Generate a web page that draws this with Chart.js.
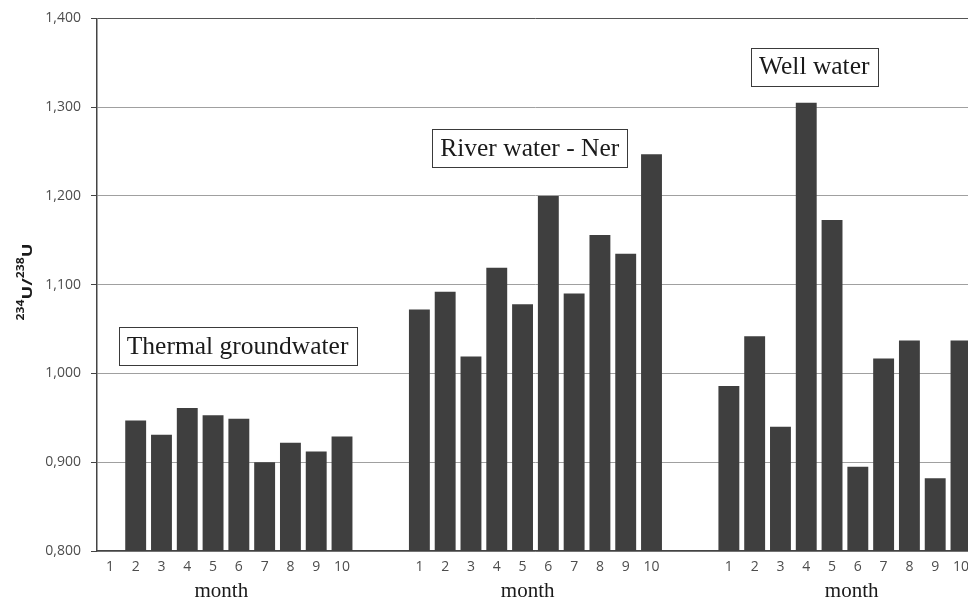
<!DOCTYPE html>
<html>
<head>
<meta charset="utf-8">
<script src="https://cdn.jsdelivr.net/npm/chart.js@4.4.1/dist/chart.umd.min.js"></script>
<style>
  html, body { margin: 0; padding: 0; background: #ffffff; overflow: hidden; }
  #c { display: block; width: 977px; height: 600px; }
</style>
</head>
<body>
<canvas id="c" width="977" height="600"></canvas>
<script>
// ---- data ----
const months = ['1', '2', '3', '4', '5', '6', '7', '8', '9', '10'];
const thermal = [0.800, 0.947, 0.931, 0.961, 0.953, 0.949, 0.900, 0.922, 0.912, 0.929];
const river   = [1.072, 1.092, 1.019, 1.119, 1.078, 1.200, 1.090, 1.156, 1.135, 1.247];
const well    = [0.986, 1.042, 0.940, 1.305, 1.173, 0.895, 1.017, 1.037, 0.882, 1.037];
const groupNames = ['Thermal groundwater', 'River water - Ner', 'Well water'];
const yTicks = [0.8, 0.9, 1.0, 1.1, 1.2, 1.3, 1.4];
const xWord = 'month';
const gapSlots = 2;

// ---- build category table ----
const groups = [thermal, river, well];
const labels = [];
const values = [];
groups.forEach((g, gi) => {
  if (gi > 0) for (let k = 0; k < gapSlots; k++) { labels.push(''); values.push(null); }
  months.forEach((m, i) => { labels.push(m); values.push(g[i]); });
});

// placements (category index, y value) for the in-chart text
const boxPlacement = [ { i: 4.95, v: 1.0306 }, { i: 16.28, v: 1.2539 }, { i: 27.31, v: 1.3457 } ];
const wordPlacement = [4.32, 16.2, 28.76];

const overlay = {
  id: 'overlay',
  afterDraw(chart) {
    const ctx = chart.ctx;
    const xs = chart.scales.x, ys = chart.scales.y;
    // group name boxes
    ctx.save();
    ctx.font = '25.5px "Liberation Serif", "Times New Roman", serif';
    ctx.textAlign = 'center';
    ctx.textBaseline = 'middle';
    groupNames.forEach((name, k) => {
      const cx = xs.getPixelForValue(boxPlacement[k].i);
      const cy = ys.getPixelForValue(boxPlacement[k].v);
      const w = Math.round(ctx.measureText(name).width + 16);
      const h = 38;
      const x0 = Math.round(cx - w / 2) + 0.5, y0 = Math.round(cy - h / 2) + 0.5;
      ctx.fillStyle = '#ffffff';
      ctx.fillRect(x0, y0, w, h);
      ctx.strokeStyle = '#3a3a3a';
      ctx.lineWidth = 1;
      ctx.strokeRect(x0, y0, w, h);
      ctx.fillStyle = '#1a1a1a';
      ctx.fillText(name, cx, cy + 1);
    });
    // "month" words
    ctx.font = '21px "Liberation Serif", "Times New Roman", serif';
    ctx.textBaseline = 'alphabetic';
    ctx.fillStyle = '#1a1a1a';
    wordPlacement.forEach(i => {
      ctx.fillText(xWord, xs.getPixelForValue(i), 597);
    });
    ctx.restore();

    // y axis title 234U/238U
    ctx.save();
    const parts = [ { t: '234', sup: true }, { t: 'U' }, { t: '/' }, { t: '238', sup: true }, { t: 'U' } ];
    const mainFont = 'bold 15px "Open Sans", sans-serif';
    const supFont = 'bold 10px "Open Sans", sans-serif';
    let total = 0;
    parts.forEach(p => { ctx.font = p.sup ? supFont : mainFont; p.w = ctx.measureText(p.t).width; total += p.w; });
    const targetLen = 77;
    const k = targetLen / total;
    ctx.translate(32, 282);
    ctx.rotate(-Math.PI / 2);
    ctx.scale(k, 1);
    ctx.fillStyle = '#1a1a1a';
    ctx.textAlign = 'left';
    ctx.textBaseline = 'alphabetic';
    let x = -total / 2;
    parts.forEach(p => {
      ctx.font = p.sup ? supFont : mainFont;
      ctx.fillText(p.t, x, p.sup ? -8.5 : 0);
      x += p.w;
    });
    ctx.restore();
  }
};

new Chart(document.getElementById('c'), {
  type: 'bar',
  data: {
    labels: labels,
    datasets: [{
      data: values,
      backgroundColor: '#3f3f3f',
      borderWidth: 0,
      barPercentage: 0.81,
      categoryPercentage: 1.0,
      minBarLength: 3
    }]
  },
  options: {
    responsive: false,
    animation: false,
    devicePixelRatio: 1,
    layout: { padding: { left: 0, right: 0, top: 14, bottom: 0 } },
    plugins: { legend: { display: false }, tooltip: { enabled: false }, title: { display: false } },
    scales: {
      x: {
        type: 'category',
        offset: true,
        grid: { display: false, drawTicks: false },
        border: { display: true, color: '#444444', width: 1.5 },
        ticks: {
          autoSkip: false, maxRotation: 0, minRotation: 0, padding: 8,
          color: '#4d4d4d', font: { family: '"Open Sans", sans-serif', size: 14 }
        },
        afterFit(s) { s.height = 49; }
      },
      y: {
        type: 'linear',
        min: 0.8,
        max: 1.4,
        afterBuildTicks(s) { s.ticks = yTicks.map(v => ({ value: v })); },
        grid: {
          color: (c) => (c.tick && Math.abs(c.tick.value - 1.4) < 1e-9) ? '#555555' : '#a0a0a0',
          lineWidth: 1,
          tickLength: 6,
          tickColor: '#444444'
        },
        border: { display: true, color: '#444444', width: 1.5 },
        ticks: {
          padding: 10,
          color: '#4d4d4d',
          font: { family: '"Open Sans", sans-serif', size: 14 },
          callback: (v) => Number(v).toFixed(3).replace('.', ',')
        },
        afterFit(s) { s.width = 97; }
      }
    }
  },
  plugins: [overlay]
});
</script>
</body>
</html>
